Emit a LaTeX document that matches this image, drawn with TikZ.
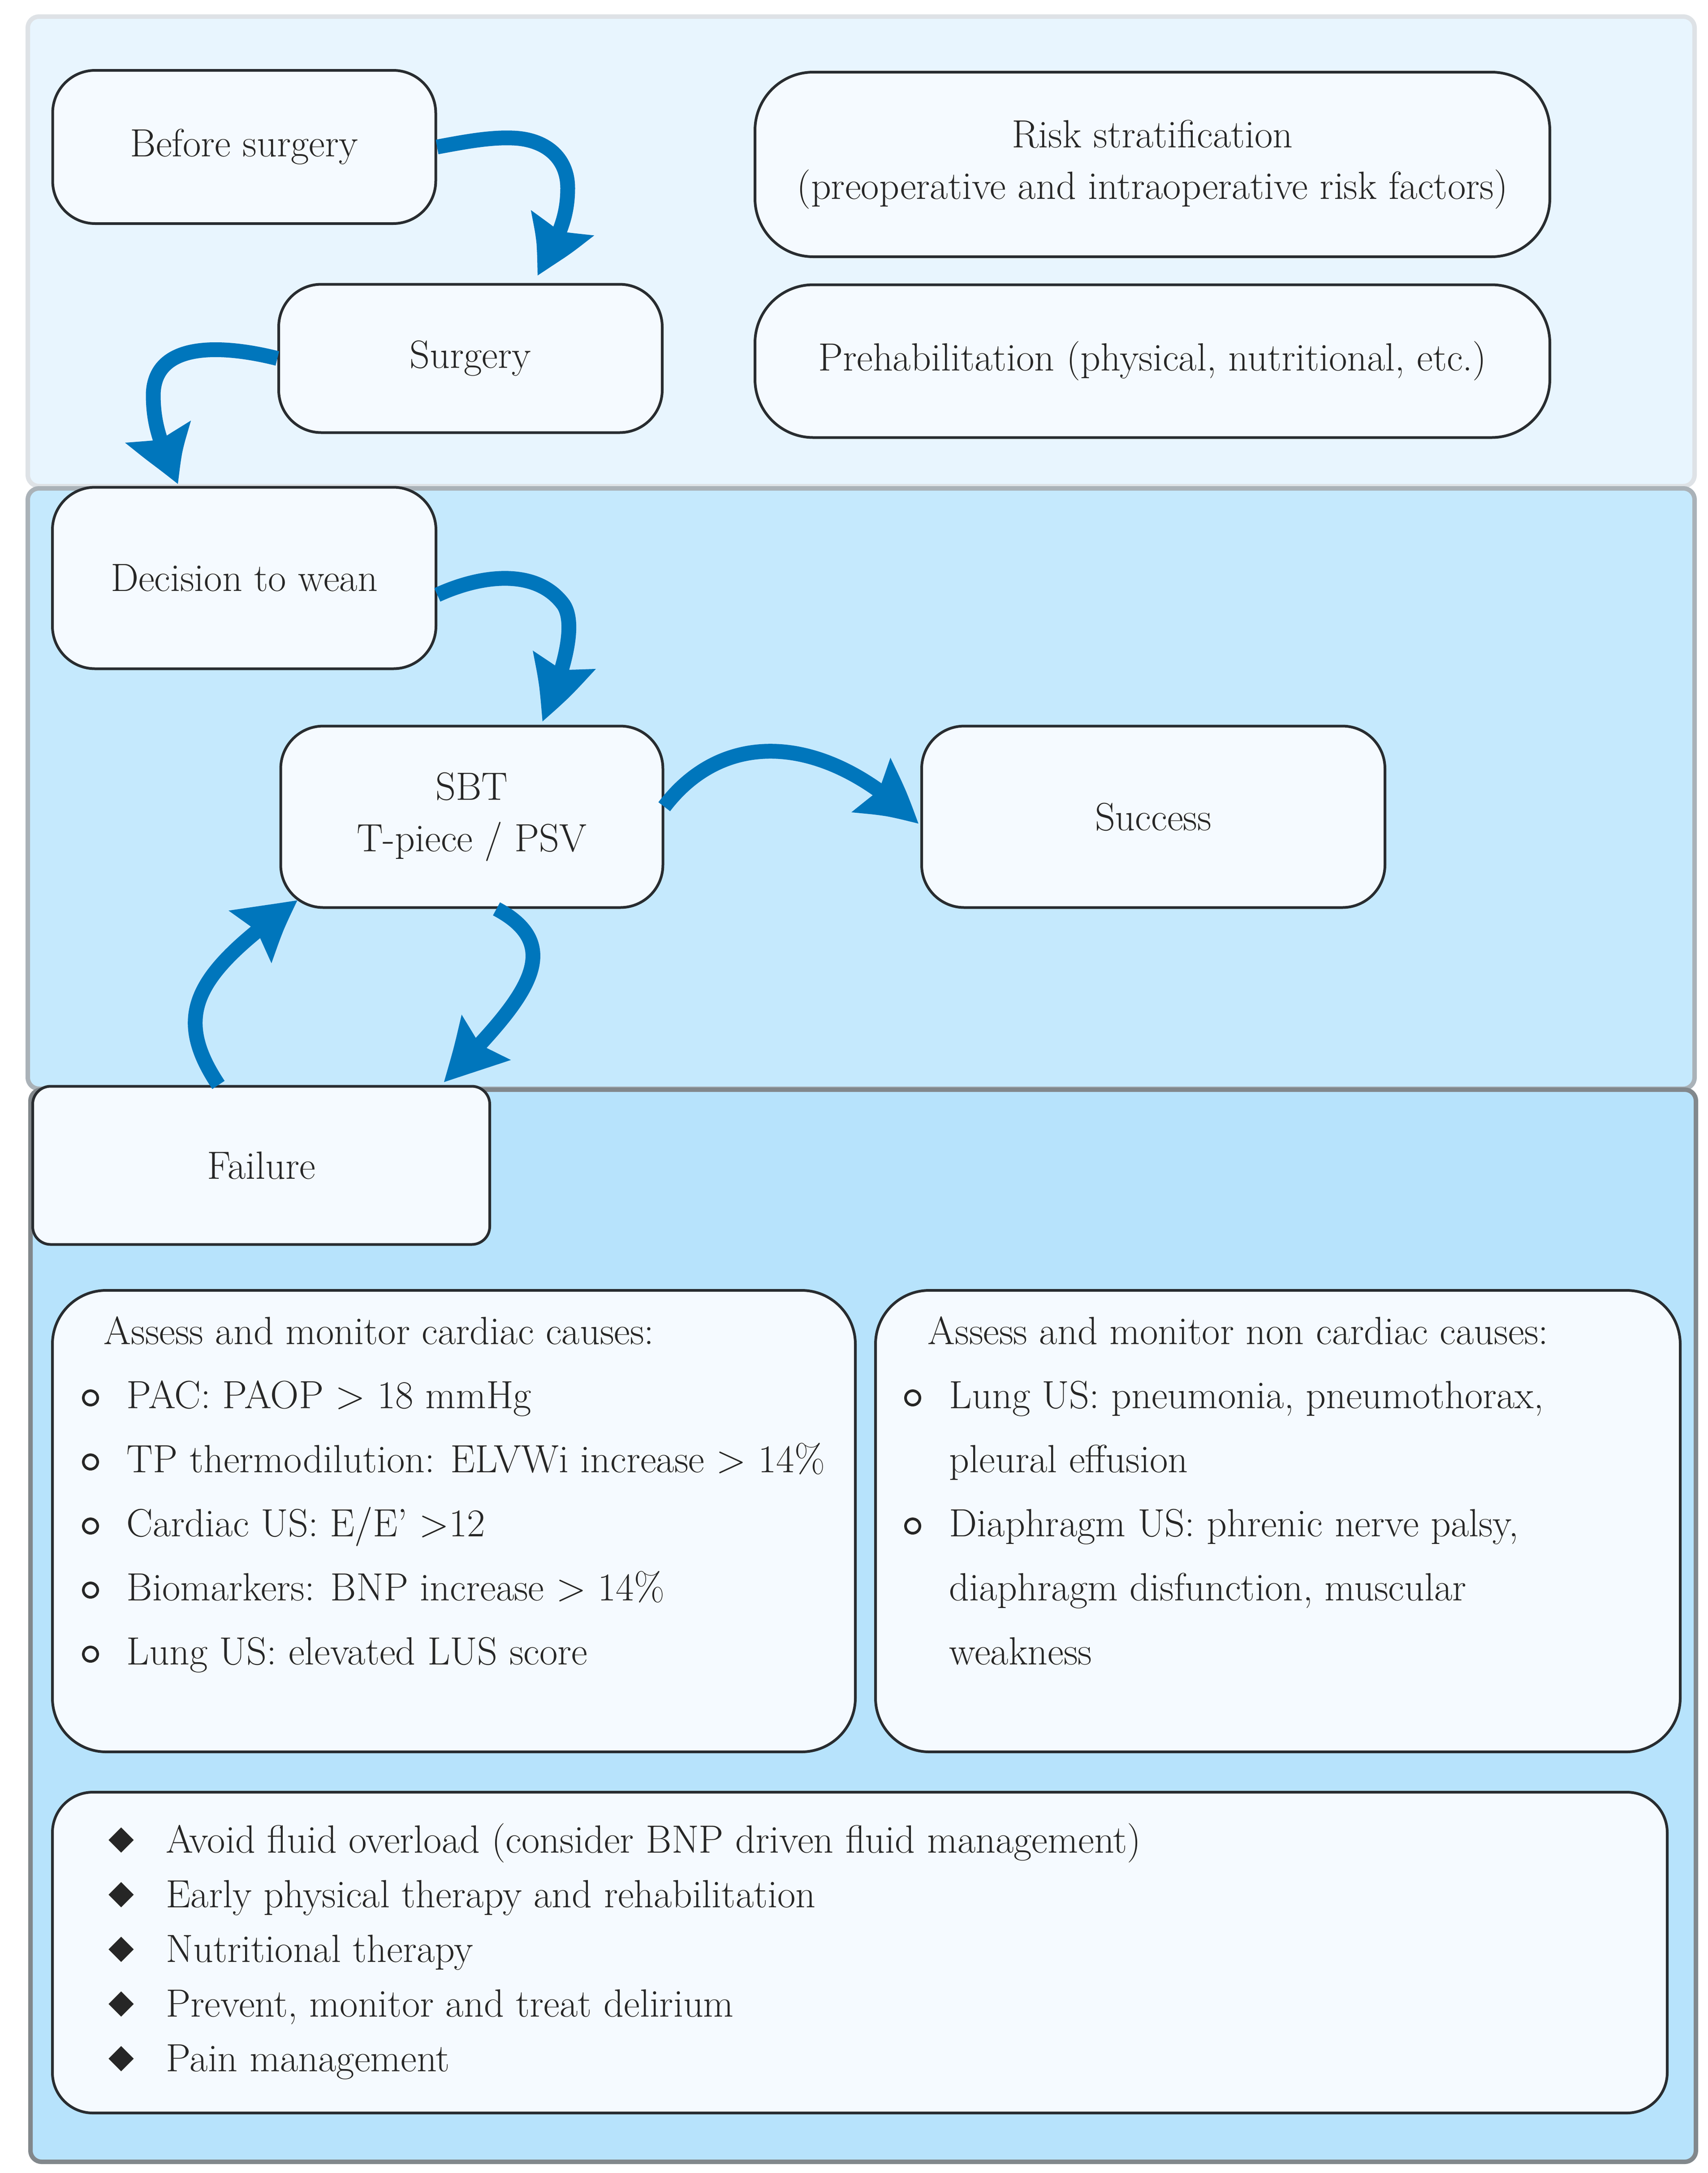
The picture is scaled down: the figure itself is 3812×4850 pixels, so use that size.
\documentclass[tikz,border=0pt]{standalone}
\usepackage{fontspec}
\usetikzlibrary{arrows.meta,bending}
\newfontfamily\symfam{DejaVu Sans}
\newcommand\mainsize{\fontsize{25pt}{32.7pt}\selectfont}
\newcommand\diafont{\symfam\fontsize{21pt}{21pt}\selectfont}
\definecolor{toppanel}{RGB}{232,245,254}
\definecolor{midpanel}{RGB}{197,233,253}
\definecolor{botpanel}{RGB}{183,227,252}
\definecolor{topline}{RGB}{222,226,230}
\definecolor{midline}{RGB}{170,178,184}
\definecolor{botline}{RGB}{130,136,140}
\definecolor{nodefill}{RGB}{245,250,255}
\definecolor{nodeline}{RGB}{40,44,48}
\definecolor{textcol}{RGB}{38,38,38}
\definecolor{arrowblue}{RGB}{0,118,188}
\tikzset{
  panel/.style={rounded corners=2.5mm, line width=1mm},
  box/.style={draw=nodeline, fill=nodefill, line width=0.6mm, rounded corners=9.5mm,
    align=center, font=\mainsize, text=textcol, inner sep=0pt},
  txt/.style={anchor=base west, inner sep=0pt, font=\mainsize, text=textcol},
  circbul/.style={circle, draw=textcol, line width=0.6mm, minimum size=3.2mm, inner sep=0pt},
  diabul/.style={anchor=center, inner sep=0pt, font=\diafont, text=textcol},
  flow/.style={draw=arrowblue, line width=3.3mm,
    -{Stealth[length=14mm,width=14mm,inset=2mm,bend]}}
}
\begin{document}
\begin{tikzpicture}[x=0.1mm,y=-0.1mm]
\useasboundingbox (0,0) rectangle (3812,4850);
\fill[white] (0,0) rectangle (3812,4850);
% panels
\draw[panel, draw=topline, fill=toppanel] (62,37) rectangle (3782,1085);
\draw[panel, draw=midline, fill=midpanel] (62,1090) rectangle (3782,2430);
\draw[panel, draw=botline, fill=botpanel] (68,2432) rectangle (3785,4825);
% top nodes
\node[box, minimum width=85.5mm, minimum height=34.2mm] (before) at (545,328) {Before surgery};
\node[box, minimum width=85.6mm, minimum height=33.1mm] (surgery) at (1050,800) {Surgery};
\node[box, minimum width=177.4mm, minimum height=41.2mm, rounded corners=13mm] (risk) at (2572,367)
  {Risk stratification\\(preoperative and intraoperative risk factors)};
\node[box, minimum width=177.4mm, minimum height=34.1mm, rounded corners=13mm] (prehab) at (2572,806)
  {Prehabilitation (physical, nutritional, etc.)};
% middle nodes
\node[box, minimum width=85.6mm, minimum height=40.5mm] (decision) at (545,1290) {Decision to wean};
\node[box, minimum width=85.3mm, minimum height=40.5mm] (sbt) at (1053,1823) {SBT\\T-piece / PSV};
\node[box, minimum width=103.4mm, minimum height=40.5mm] (success) at (2574,1823) {Success};
% bottom nodes
\node[box, minimum width=102mm, minimum height=35.3mm, rounded corners=4mm] (failure) at (583,2601) {Failure};
\node[box, minimum width=179.2mm, minimum height=103mm, rounded corners=12mm] (cardiac) at (1013,3395) {};
\node[box, minimum width=179.6mm, minimum height=103mm, rounded corners=12mm] (noncardiac) at (2852,3395) {};
\node[box, minimum width=360.4mm, minimum height=71.6mm, rounded corners=9mm] (measures) at (1919,4358) {};
% cardiac list
\node[txt] (ct) at (231,3000) {Assess and monitor cardiac causes:};
\node[circbul] (cb1) at (202,3120) {};
\node[txt] (c1) at (282,3143) {PAC: PAOP > 18 mmHg};
\node[circbul] (cb2) at (202,3263) {};
\node[txt] (c2) at (282,3286) {TP thermodilution: ELVWi increase > 14\%};
\node[circbul] (cb3) at (202,3406) {};
\node[txt] (c3) at (282,3429) {Cardiac US: E/E’ >12};
\node[circbul] (cb4) at (202,3549) {};
\node[txt] (c4) at (282,3572) {Biomarkers: BNP increase > 14\%};
\node[circbul] (cb5) at (202,3692) {};
\node[txt] (c5) at (282,3715) {Lung US: elevated LUS score};
% non cardiac list
\node[txt] (nt) at (2070,3000) {Assess and monitor non cardiac causes:};
\node[circbul] (nb1) at (2037,3120) {};
\node[txt] (n1) at (2118,3143) {Lung US: pneumonia, pneumothorax,};
\node[txt] (n2) at (2118,3286) {pleural effusion};
\node[circbul] (nb3) at (2037,3406) {};
\node[txt] (n3) at (2118,3429) {Diaphragm US: phrenic nerve palsy,};
\node[txt] (n4) at (2118,3572) {diaphragm disfunction, muscular};
\node[txt] (n5) at (2118,3715) {weakness};
% measures list
\node[diabul] (mb1) at (271,4107) {◆};
\node[txt] (m1) at (370,4135) {Avoid fluid overload (consider BNP driven fluid management)};
\node[diabul] (mb2) at (271,4229) {◆};
\node[txt] (m2) at (370,4257) {Early physical therapy and rehabilitation};
\node[diabul] (mb3) at (271,4351) {◆};
\node[txt] (m3) at (370,4379) {Nutritional therapy};
\node[diabul] (mb4) at (271,4473) {◆};
\node[txt] (m4) at (370,4501) {Prevent, monitor and treat delirium};
\node[diabul] (mb5) at (271,4595) {◆};
\node[txt] (m5) at (370,4623) {Pain management};
% arrow end points
\coordinate (t1) at (1199,617);
\coordinate (t2) at (398,1083);
\coordinate (t3) at (1210,1610);
\coordinate (t4) at (2050,1840);
\coordinate (t5) at (990,2416);
\coordinate (t6) at (665,2009);
% arrows
\draw[flow] (before.east) .. controls (1030,318) and (1090,306) .. (1143,308)
  .. controls (1215,310) and (1267,350) .. (1267,420)
  .. controls (1267,500) and (1235,545) .. (t1);
\draw[flow] (surgery.west) .. controls (500,770) and (345,760) .. (342,880)
  .. controls (342,960) and (365,1000) .. (t2);
\draw[flow] (decision.-5) .. controls (1080,1280) and (1200,1270) .. (1258,1350)
  .. controls (1290,1400) and (1250,1520) .. (t3);
\draw[flow] (sbt.3) .. controls (1620,1620) and (1850,1640) .. (t4);
\draw[flow] (sbt.-75) .. controls (1280,2120) and (1150,2250) .. (t5);
\draw[flow] (failure.118) .. controls (380,2260) and (440,2170) .. (t6);
\end{tikzpicture}
\end{document}
